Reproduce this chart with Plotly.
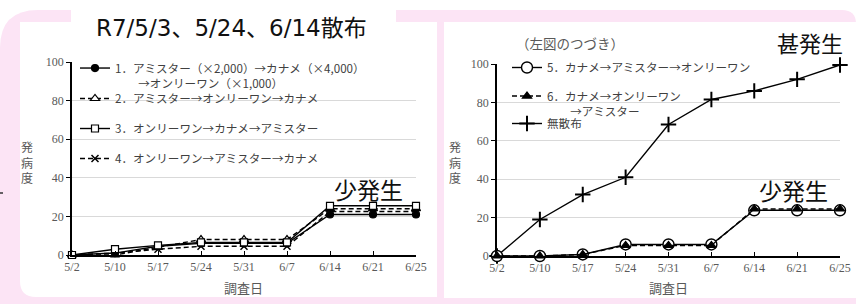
import plotly.graph_objects as go

W, H = 856, 304

dates = ["5/2", "5/10", "5/17", "5/24", "5/31", "6/7", "6/14", "6/21", "6/25"]
# left panel
s1 = [0, 1, 4.5, 6, 6, 6, 21, 21, 21]
s2 = [0, 0, 4, 8, 8, 8, 24, 24, 24]
s3 = [0, 3, 5, 6.5, 6.5, 6.5, 25.5, 25.5, 25.5]
s4 = [0, 1, 3, 4.5, 4.5, 4.5, 22.5, 22.5, 22.5]
# right panel
s5 = [0, 0, 0.8, 6, 6, 6, 23.8, 23.8, 23.8]
s6 = [0, 0, 0.8, 5.5, 5.5, 5.5, 24.5, 24.5, 24.5]
s7 = [0, 19, 32, 41, 68.5, 81.5, 86, 92, 99.5]

n1 = "1．アミスター（×2,000）→カナメ（×4,000）<br>\u3000\u3000→オンリーワン（×1,000）"
n2 = "2．アミスター→オンリーワン→カナメ"
n3 = "3．オンリーワン→カナメ→アミスター"
n4 = "4．オンリーワン→アミスター→カナメ"
n5 = "5．カナメ→アミスター→オンリーワン"
n6 = "6．カナメ→オンリーワン<br>\u3000\u3000→アミスター"
n7 = "無散布"

yticks = [0, 20, 40, 60, 80, 100]

JP = "Noto Sans CJK JP"
TITLEF = "DejaVu Sans, Noto Sans CJK JP"
NUM = "Liberation Serif, Noto Sans CJK JP"
GRAY = "#595959"
PINK = "#FCE4F5"


def X(x):
    return x / W


def Y(y):
    return 1 - y / H


def path(pts):
    out = []
    for p in pts:
        if isinstance(p, str):
            out.append(p)
        else:
            out.append(f"{X(p[0]):.5f},{Y(p[1]):.5f}")
    return " ".join(out)


fig = go.Figure()

DASH = "5px,3px"


def add(y, name, sym, size, fill, dash, xa, ya, leg, mlw=1.2):
    fig.add_trace(go.Scatter(
        x=dates, y=y, name=name, mode="lines+markers",
        line=dict(color="black", width=1.4, dash=dash),
        marker=dict(symbol=sym, size=size, color=fill,
                    line=dict(color="black", width=mlw)),
        xaxis=xa, yaxis=ya, legend=leg, cliponaxis=False,
    ))


add(s4, n4, "x-thin", 7, "black", DASH, "x", "y", "legend4", 1.5)
add(s2, n2, "triangle-up", 8, "white", DASH, "x", "y", "legend2")
add(s1, n1, "circle", 7, "black", "solid", "x", "y", "legend")
add(s3, n3, "square", 7, "white", "solid", "x", "y", "legend3")

add(s7, n7, "cross-thin", 11, "black", "solid", "x2", "y2", "legend7", 2)
add(s5, n5, "circle", 11, "white", "solid", "x2", "y2", "legend5", 1.4)
add(s6, n6, "triangle-up", 8, "black", DASH, "x2", "y2", "legend6")


def leg(xp, ytop, multi=False):
    return dict(x=X(xp), y=Y(ytop), xanchor="left", yanchor="top",
                bgcolor="rgba(0,0,0,0)", borderwidth=0, itemwidth=30,
                valign="top" if multi else "middle",
                font=dict(family=JP, size=11.6, color="#404040"))


shapes = [
    # outer pink frame
    dict(type="path", xref="paper", yref="paper", layer="below",
         path=path(["M", (0, 304), "L", (0, 48), "Q", (0, 10), (38, 10),
                    "L", (842, 10), "Q", (856, 10), (856, 24), "L", (856, 304), "Z"]),
         fillcolor=PINK, line=dict(width=0)),
    # left white panel
    dict(type="path", xref="paper", yref="paper", layer="below",
         path=path(["M", (20, 22), "L", (437, 22), "L", (437, 297), "L", (36, 297),
                    "Q", (20, 297), (20, 281), "Z"]),
         fillcolor="white", line=dict(width=0)),
    # title white box
    dict(type="path", xref="paper", yref="paper", layer="below",
         path=path(["M", (71, 8), "L", (396, 8), "L", (396, 23), "L", (71, 23), "Z"]),
         fillcolor="white", line=dict(width=0)),
    # right white panel
    dict(type="path", xref="paper", yref="paper", layer="below",
         path=path(["M", (444, 22), "L", (856, 22), "L", (856, 298), "L", (444, 298), "Z"]),
         fillcolor="white", line=dict(width=0)),
    # small stray mark at left edge
    dict(type="line", xref="paper", yref="paper", layer="above",
         x0=X(0), x1=X(3), y0=Y(193), y1=Y(193), line=dict(color="#333", width=1.5)),
]


def ann(text, x, y, size, color, family=JP):
    return dict(text=text, x=X(x), y=Y(y), xref="paper", yref="paper",
                xanchor="center", yanchor="middle", showarrow=False,
                font=dict(family=family, size=size, color=color))


annotations = [
    ann("R7/5/3、5/24、6/14散布", 231, 28, 23, "#111", TITLEF),
    ann("少発生", 368, 189, 23, "#111"),
    ann("少発生", 793, 190, 23, "#111"),
    ann("甚発生", 810, 42, 22, "#111"),
    ann("（左図のつづき）", 570, 43, 13.5, GRAY),
    ann("発<br>病<br>度", 27, 162, 12, GRAY),
    ann("発<br>病<br>度", 455, 162, 12, GRAY),
    ann("調査日", 243, 287, 13, GRAY),
    ann("調査日", 668, 287, 13, GRAY),
]


def xax(dom):
    return dict(domain=dom, type="category", range=[0, 8], showline=True,
                linecolor="black", linewidth=1.5, ticks="inside", ticklen=4,
                tickcolor="black", showgrid=False, zeroline=False,
                tickfont=dict(family=NUM, size=12, color=GRAY), fixedrange=True)


def yax(dom, anchor):
    return dict(domain=dom, range=[0, 100], tickvals=yticks, showline=True,
                linecolor="black", linewidth=1.5, ticks="outside", ticklen=4,
                tickcolor="black", showgrid=True, gridcolor="#D9D9D9", gridwidth=1,
                zeroline=False, anchor=anchor,
                tickfont=dict(family=NUM, size=12, color=GRAY), fixedrange=True)


fig.update_layout(
    width=W, height=H, margin=dict(l=0, r=0, t=0, b=0, pad=0, autoexpand=False),
    paper_bgcolor="white", plot_bgcolor="rgba(0,0,0,0)",
    xaxis=dict(**xax([X(72), X(416)]), anchor="y"),
    yaxis=yax([Y(255), Y(62)], "x"),
    xaxis2=dict(**xax([X(497), X(840)]), anchor="y2"),
    yaxis2=yax([Y(256), Y(64)], "x2"),
    shapes=shapes, annotations=annotations,
    showlegend=True,
    legend=leg(75, 54, True),
    legend2=leg(75, 84),
    legend3=leg(75, 114),
    legend4=leg(75, 144),
    legend5=leg(507, 53),
    legend6=leg(507, 82, True),
    legend7=leg(507, 109),
)

fig.write_html("out.html", config={"displayModeBar": False},
               post_script="document.body.style.margin='0px';")
